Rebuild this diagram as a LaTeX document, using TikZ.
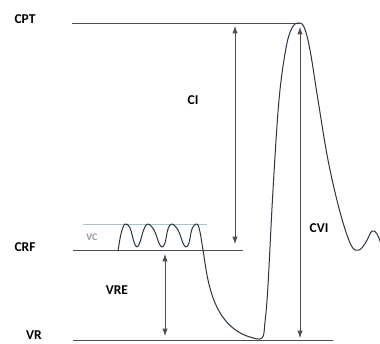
\documentclass[tikz,border=0pt]{standalone}
\usepackage{fontspec}
\setmainfont{Carlito}
\usetikzlibrary{arrows.meta}
\definecolor{levelgray}{RGB}{85,75,75}
\definecolor{curvecol}{RGB}{40,52,66}
\definecolor{vcblue}{RGB}{165,195,215}
\definecolor{vcgray}{RGB}{150,150,160}
\tikzset{
  lvl/.style={draw=levelgray, line width=0.9pt},
  lbl/.style={font=\bfseries\fontsize{13.5}{15}\selectfont, text=black, inner sep=0pt},
  span/.style={draw=levelgray, line width=0.8pt, {Latex[length=2.6mm,width=1.9mm]}-{Latex[length=2.6mm,width=1.9mm]}},
  wave/.style={draw=curvecol, line width=1pt, line join=round}
}

\begin{document}
\begin{tikzpicture}[x=1pt,y=-1pt]
  \useasboundingbox (0,0) rectangle (380,344);

  % level labels
  \node[lbl] (cpt) at (25,19.5) {CPT};
  \node[lbl] (crf) at (25,247) {CRF};
  \node[lbl] (vr)  at (34,335) {VR};
  \node[font=\bfseries\fontsize{10}{12}\selectfont, text=vcgray, inner sep=0pt] (vc) at (92,237) {VC};

  % level lines
  \coordinate (cptL) at (72,23);   \coordinate (cptR) at (300,23);
  \coordinate (crfL) at (73,250);  \coordinate (crfR) at (243,250);
  \coordinate (vcL)  at (83,224);  \coordinate (vcR)  at (207,224);
  \coordinate (vrL)  at (73,340);  \coordinate (vrR)  at (333,340);
  \draw[lvl] (cptL) -- (cptR);
  \draw[lvl] (crfL) -- (crfR);
  \draw[lvl] (vrL) -- (vrR);
  \draw[draw=vcblue, line width=0.7pt] (vcL) -- (vcR);

  % spans
  \coordinate (ciT) at (235,26);   \coordinate (ciB) at (235,244);
  \coordinate (vreT) at (165,254); \coordinate (vreB) at (165,336);
  \coordinate (cviT) at (300,27);  \coordinate (cviB) at (300,338);
  \draw[span] (ciT) -- (ciB);
  \draw[span] (vreT) -- (vreB);
  \draw[span] (cviT) -- (cviB);
  \node[lbl] (ci)  at (193,100) {CI};
  \node[lbl] (vre) at (117,290) {VRE};
  \node[lbl] (cvi) at (319,228) {CVI};

  % pressure trace
  \draw[wave] plot[smooth, tension=0.6] coordinates {
    (118,251) (121,234) (125,224) (130,228) (134,242) (137,247) (140,242) (144,229) (148,224)
    (154,230) (159,243) (162,247) (165,243) (168,229) (172,224) (178,230) (183,243) (186,247)
    (189,243) (192,229) (197,224) (200,232) (203,250) (208,280) (215,303) (225,320) (237,331)
    (250,337) (262,338) (265,322) (268,285) (273,190) (279,100) (286,48)
    (292,28) (298,23) (304,27) (310,50) (318,100) (328,160) (340,212)
    (351,245) (359,250) (366,242) (372,231) (377,234) (381,244)};
\end{tikzpicture}
\end{document}
